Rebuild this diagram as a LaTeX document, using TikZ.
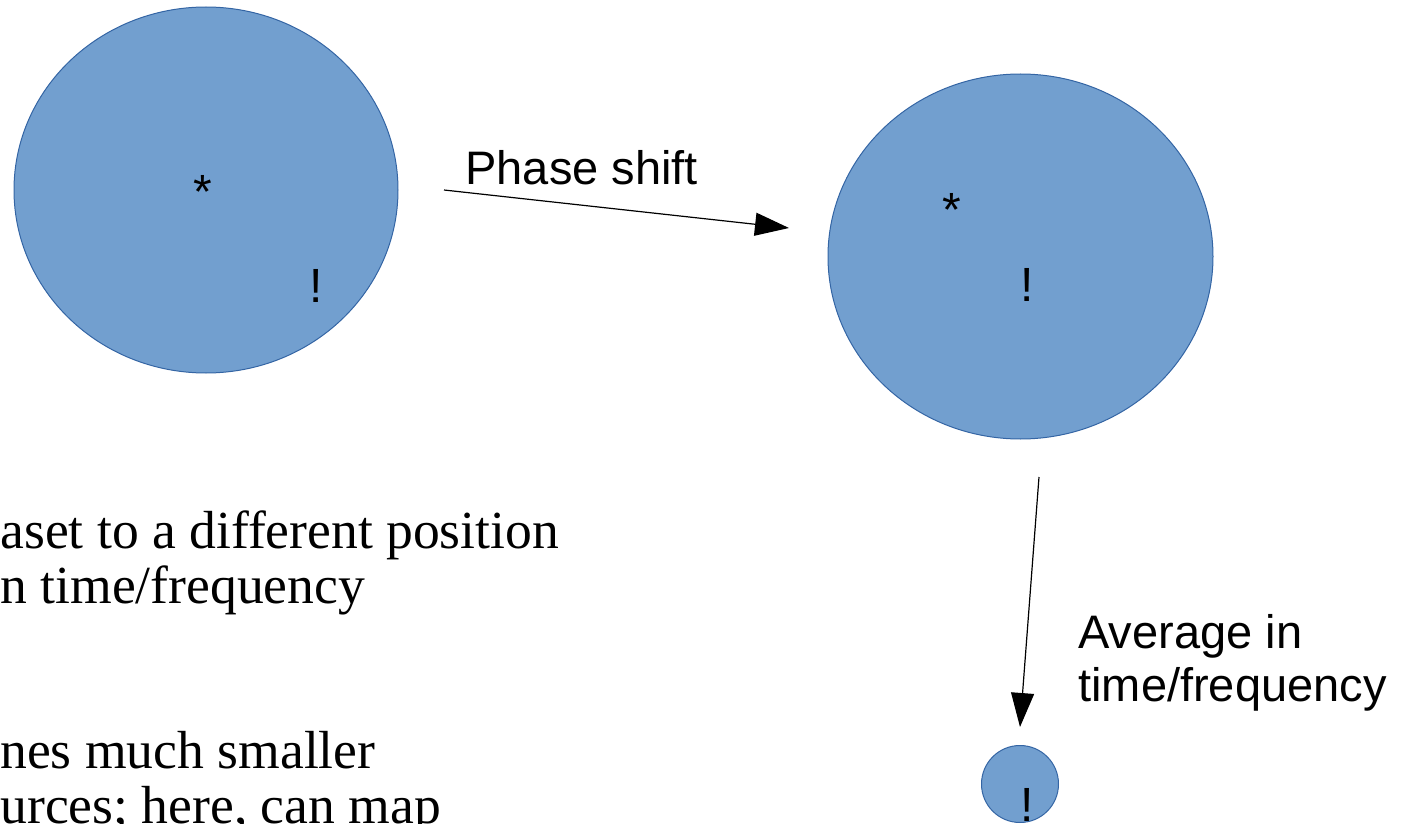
\documentclass[tikz,border=0pt]{standalone}
\usepackage{fontspec}
\setmainfont{Liberation Serif}
\setsansfont{Liberation Sans}
\definecolor{blobfill}{HTML}{729FCF}
\definecolor{blobline}{HTML}{3465A4}
\usepackage{tikz}
\usetikzlibrary{arrows.meta, shapes.geometric}

\tikzset{
  blob/.style={ellipse, draw=blobline, fill=blobfill, line width=0.5pt, inner sep=0pt},
  sign/.style={font=\sffamily\fontsize{24}{27}\selectfont, inner sep=0pt, anchor=base},
  sanslabel/.style={font=\sffamily\fontsize{23.5}{26.5}\selectfont, inner sep=0pt, align=left},
  seriftext/.style={font=\fontsize{26.8}{27.5}\selectfont, inner sep=0pt, align=left, anchor=base west},
  flow/.style={line width=0.6pt, -{Triangle[length=17pt, width=11.5pt]}}
}

\begin{document}
\begin{tikzpicture}[x=0.5pt, y=-0.5pt]
\useasboundingbox (0,0) rectangle (1405,824);
\clip (0,0) rectangle (1405,824);

% spots
\node[blob, minimum width=192pt, minimum height=183pt] (spotA) at (206,190) {};
\node[blob, minimum width=192.5pt, minimum height=182.5pt] (spotB) at (1020.5,256.5) {};
\node[blob, minimum size=38.5pt] (spotC) at (1020,784) {};

\node[sign] (starA) at (203,209) {*};
\node[sign] (bangA) at (316,302) {!};
\node[sign] (starB) at (952,227) {*};
\node[sign] (bangB) at (1027,301) {!};
\node[sign] (bangC) at (1027,821) {!};

% arrows
\coordinate (shiftFrom) at (444,190);
\coordinate (shiftTo) at (789,228);
\draw[flow] (shiftFrom) -- (shiftTo);
\coordinate (avgFrom) at (1039,477);
\coordinate (avgTo) at (1020,727);
\draw[flow] (avgFrom) -- (avgTo);

\node[sanslabel, anchor=base west] (shiftLabel) at (465,185) {Phase shift};
\node[sanslabel, anchor=north west] (avgLabel) at (1078,614) {Average in\\time/frequency};

% notes, cut off at the left (base = last line)
\node[seriftext] (noteTop) at (0,603) {aset to a different position\\n time/frequency};
\node[seriftext] (noteBottom) at (0,823) {nes much smaller\\urces; here, can map};
\end{tikzpicture}
\end{document}
